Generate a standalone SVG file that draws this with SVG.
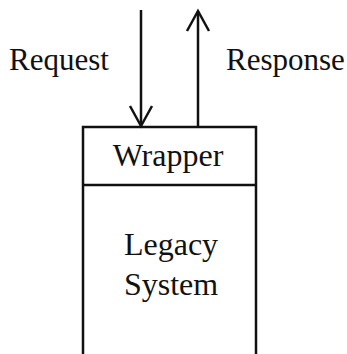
<svg xmlns="http://www.w3.org/2000/svg" width="347" height="354" viewBox="0 0 347 354">
<style>
.t{font-family:"Liberation Serif","Times New Roman",serif;font-size:31px;fill:#111}
.b{font-size:32px}
.l{stroke:#111;stroke-width:2.5;fill:none}
</style>
<rect width="347" height="354" fill="#fff"/>
<g id="labels">
<text class="t" x="9" y="70">Request</text>
<text class="t" x="226" y="70">Response</text>
</g>
<g id="wrapper">
<path class="l" d="M83,354 V127 H256 V354"/>
<line class="l" x1="83" y1="185" x2="256" y2="185"/>
<text class="t b" x="168" y="166" text-anchor="middle">Wrapper</text>
</g>
<g id="legacy">
<text class="t b" x="171" y="255" text-anchor="middle">Legacy</text>
<text class="t b" x="171" y="295" text-anchor="middle">System</text>
</g>
<g id="connectors">
<line class="l" x1="141" y1="10" x2="141" y2="126"/>
<polyline class="l" points="130,106 141,126 152,106"/>
<line class="l" x1="198" y1="127" x2="198" y2="11"/>
<polyline class="l" points="187,31 198,11 209,31"/>
</g>
</svg>
